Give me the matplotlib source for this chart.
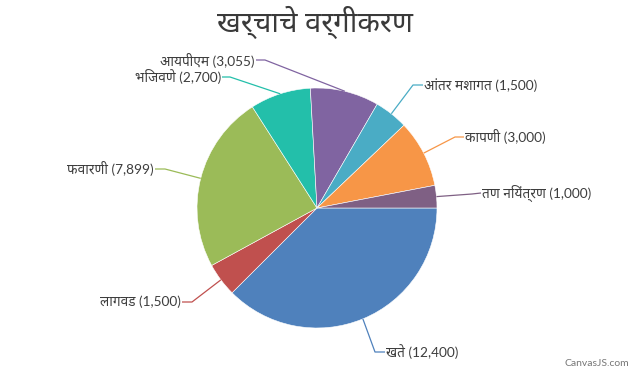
import numpy as np
import matplotlib
matplotlib.use("Agg")
import matplotlib.pyplot as plt
from matplotlib import font_manager

# data
categories = ["खते", "लागवड", "फवारणी", "भिजवणे", "आयपीएम", "आंतर मशागत", "कापणी", "तण नियंत्रण"]
values = [12400, 1500, 7899, 2700, 3055, 1500, 3000, 1000]
colors = ["#4F81BC", "#C0504E", "#9BBB58", "#23BFAA", "#8064A1", "#4AACC5", "#F79647", "#7F6084"]
title = "खर्चाचे वर्गीकरण"


def pick_font(cands):
    have = {(f.name, str(f.weight)) for f in font_manager.fontManager.ttflist}
    for c in cands:
        if any(n == c and w in ("400", "normal", "regular", "book") for n, w in have):
            return c
    return None


deva = pick_font(["Noto Sans Devanagari", "Noto Sans Devanagari UI", "Mukta", "Ek Mukta",
                  "Martel Sans", "Khula", "Poppins"])
fams = ["Lato"] + ([deva] if deva else []) + ["DejaVu Sans"]

W, H = 633, 370
fig = plt.figure(figsize=(W / 100, H / 100), dpi=100)
ax = fig.add_axes([0, 0, 1, 1])

cx, cy, r = 317, H - 208, 120
wedges, _ = ax.pie(values, colors=colors, startangle=0, counterclock=False,
                   center=(cx, cy), radius=r, frame=True,
                   wedgeprops=dict(edgecolor="white", linewidth=0.4))
ax.set_xlim(0, W)
ax.set_ylim(0, H)
ax.axis("off")

# label layout (pixel coords, y down): elbow point and end of the short horizontal
elbows = [(375, 352), (192, 302), (165, 169), (230, 77), (265, 60), (413, 85), (455, 137), (472, 194)]
ends = [(385, 352), (182, 302), (155, 169), (222, 77), (256, 60), (423, 85), (464, 137), (481, 193)]
anchor_fix = {2: 165.7}

for i, w in enumerate(wedges):
    th = anchor_fix.get(i, (w.theta1 + w.theta2) / 2)
    sx = cx + r * np.cos(np.radians(th))
    sy = cy + r * np.sin(np.radians(th))
    ex, ey = elbows[i]
    tx, ty = ends[i]
    ax.plot([sx, ex, tx], [sy, H - ey, H - ty], color=colors[i], lw=0.9,
            solid_capstyle="butt")
    left = tx > cx
    ax.text(tx + (1 if left else -1), H - ty, f"{categories[i]} ({values[i]:,})",
            ha="left" if left else "right", va="center", fontsize=9.8,
            color="#3d3d3d", family=fams)

fig.text(315 / W, 1 - 22 / H, title, ha="center", va="center", fontsize=21,
         color="#3a3a3a", family=fams)
fig.text(629 / W, 1 - 364 / H, "CanvasJS.com", ha="right", va="center",
         fontsize=7.5, color="#777777", family=["Lato", "DejaVu Sans"])

fig.savefig("out.png", dpi=100)
